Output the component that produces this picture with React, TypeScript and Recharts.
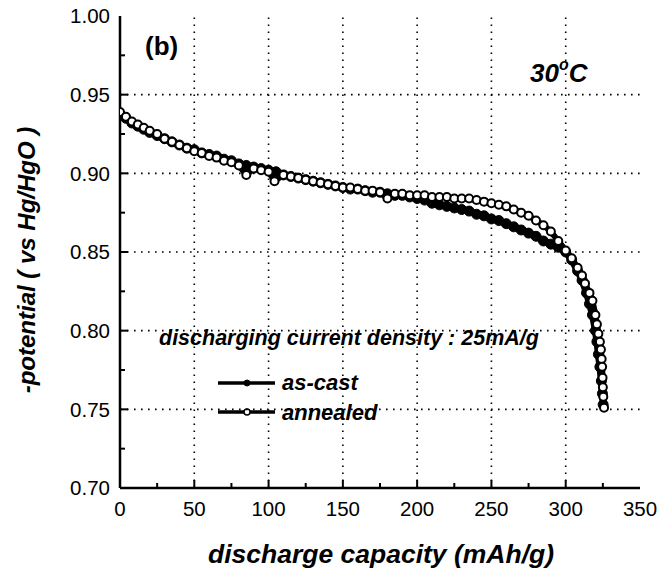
import React from 'react';
import { LineChart, Line, XAxis, YAxis, ReferenceLine } from 'recharts';

// discharge capacity (mAh/g) and potential (V)
const asCastCapacity = [
  0, 4, 8, 12, 16, 20, 25, 30, 35, 40, 45, 50, 55, 60, 65, 70, 75, 80, 85, 90, 95, 100, 105, 110, 115,
  120, 125, 130, 135, 140, 145, 150, 155, 160, 165, 170, 175, 180, 185, 190, 195, 200, 205, 210, 215,
  220, 225, 230, 235, 240, 245, 250, 255, 260, 265, 270, 275, 280, 285, 290, 295, 300, 304, 308, 311,
  314, 316, 318, 320, 321, 322, 323, 324, 324.7, 325.2,
];
const asCastPotential = [
  0.937, 0.935, 0.932, 0.93, 0.928, 0.926, 0.924, 0.922, 0.92, 0.918, 0.916, 0.915, 0.913, 0.912, 0.911,
  0.909, 0.908, 0.906, 0.905, 0.904, 0.903, 0.902, 0.901, 0.899, 0.898, 0.897, 0.896, 0.895, 0.894,
  0.893, 0.892, 0.891, 0.89, 0.89, 0.889, 0.888, 0.888, 0.887, 0.886, 0.886, 0.885, 0.884, 0.883, 0.881,
  0.88, 0.879, 0.878, 0.877, 0.876, 0.874, 0.873, 0.871, 0.87, 0.868, 0.866, 0.864, 0.862, 0.86, 0.857,
  0.855, 0.853, 0.85, 0.845, 0.838, 0.832, 0.824, 0.817, 0.81, 0.8, 0.793, 0.785, 0.777, 0.768, 0.76,
  0.753,
];

const annealedCapacity = [
  0, 4, 8, 12, 16, 20, 25, 30, 35, 40, 45, 50, 55, 60, 65, 70, 75, 80, 85, 90, 95, 100, 104, 110, 115,
  120, 125, 130, 135, 140, 145, 150, 155, 160, 165, 170, 175, 180, 185, 190, 195, 200, 205, 210, 215,
  220, 225, 230, 235, 240, 245, 250, 255, 260, 265, 270, 275, 280, 285, 290, 295, 300, 304, 308, 311,
  313, 316, 318, 320, 321, 322, 323, 323.7, 324.2, 324.5, 324.8, 325, 325.3, 325.8,
];
const annealedPotential = [
  0.939, 0.936, 0.933, 0.931, 0.929, 0.927, 0.925, 0.922, 0.92, 0.918, 0.916, 0.914, 0.913, 0.911, 0.91,
  0.908, 0.907, 0.905, 0.899, 0.903, 0.902, 0.901, 0.895, 0.899, 0.898, 0.897, 0.896, 0.895, 0.894,
  0.893, 0.892, 0.891, 0.891, 0.89, 0.889, 0.889, 0.888, 0.884, 0.887, 0.887, 0.886, 0.886, 0.886, 0.885,
  0.885, 0.885, 0.884, 0.884, 0.884, 0.883, 0.882, 0.881, 0.88, 0.879, 0.877, 0.875, 0.873, 0.87, 0.867,
  0.863, 0.857, 0.851, 0.846, 0.84, 0.835, 0.83, 0.824, 0.819, 0.81, 0.804, 0.798, 0.793, 0.788, 0.782,
  0.777, 0.77, 0.764, 0.758, 0.751,
];

const xTicks = [0, 25, 50, 75, 100, 125, 150, 175, 200, 225, 250, 275, 300, 325, 350];
const yTicks = [0.7, 0.725, 0.75, 0.775, 0.8, 0.825, 0.85, 0.875, 0.9, 0.925, 0.95, 0.975, 1.0];
const xGrid = [50, 100, 150, 200, 250, 300];
const yGrid = [0.75, 0.8, 0.85, 0.9, 0.95];

const asCastData = asCastCapacity.map((x, i) => ({ x, y: asCastPotential[i] }));
const annealedData = annealedCapacity.map((x, i) => ({ x, y: annealedPotential[i] }));

const FONT = '"Liberation Sans", Arial, Helvetica, sans-serif';
const X_MARGIN = 13;
const Y_MARGIN = 10;

const isMajorX = (v: number) => v % 50 === 0;
const isMajorY = (v: number) => Math.round(v * 1000) % 50 === 0;

const BottomTick = (props: any) => {
  const { x, y, payload } = props;
  const v = payload.value;
  const axisY = y - X_MARGIN;
  return (
    <g>
      {v > 0 && v < 350 && (
        <line x1={x} x2={x} y1={axisY} y2={axisY - (isMajorX(v) ? 8 : 5)} stroke="#000" strokeWidth={2} />
      )}
      {isMajorX(v) && (
        <text x={x} y={y} dy="0.71em" textAnchor="middle" fontSize={20.5} fontFamily={FONT} fill="#000">
          {v}
        </text>
      )}
    </g>
  );
};

const TopTick = (props: any) => {
  const { x, y, payload } = props;
  const v = payload.value;
  if (v <= 0 || v >= 350) return <g />;
  return <line x1={x} x2={x} y1={y} y2={y + (isMajorX(v) ? 8 : 5)} stroke="#000" strokeWidth={2} />;
};

const LeftTick = (props: any) => {
  const { x, y, payload } = props;
  const v = payload.value;
  const axisX = x + Y_MARGIN;
  return (
    <g>
      {v > 0.7 && v < 1.0 && (
        <line x1={axisX} x2={axisX + (isMajorY(v) ? 8 : 5)} y1={y} y2={y} stroke="#000" strokeWidth={2} />
      )}
      {isMajorY(v) && (
        <text x={x} y={y} dy="0.355em" textAnchor="end" fontSize={20.5} fontFamily={FONT} fill="#000">
          {v.toFixed(2)}
        </text>
      )}
    </g>
  );
};

const bold = { fontFamily: FONT, fontWeight: 700, fill: '#000' } as const;

export default function App() {
  return (
    <div style={{ position: 'absolute', left: 0, top: 0, width: 671, height: 568, background: '#fff' }}>
      <LineChart width={671} height={568} margin={{ top: 16, right: 31, bottom: 0, left: 0 }}>
        <XAxis
          type="number"
          dataKey="x"
          domain={[0, 350]}
          allowDataOverflow
          ticks={xTicks}
          interval={0}
          height={80}
          tickSize={0}
          tickMargin={X_MARGIN}
          tick={<BottomTick />}
          axisLine={{ stroke: '#000', strokeWidth: 2.5 }}
        />
        <XAxis
          xAxisId="top"
          orientation="top"
          type="number"
          domain={[0, 350]}
          allowDataOverflow
          ticks={xTicks}
          interval={0}
          height={0}
          tickSize={0}
          tickMargin={0}
          tick={<TopTick />}
          axisLine={{ stroke: '#000', strokeWidth: 2.5 }}
        />
        <YAxis
          type="number"
          dataKey="y"
          domain={[0.7, 1.0]}
          allowDataOverflow
          ticks={yTicks}
          interval={0}
          width={120}
          tickSize={0}
          tickMargin={Y_MARGIN}
          tick={<LeftTick />}
          axisLine={{ stroke: '#000', strokeWidth: 2.5 }}
        />
        <YAxis
          yAxisId="right"
          orientation="right"
          type="number"
          domain={[0.7, 1.0]}
          allowDataOverflow
          width={0}
          tick={false}
          tickLine={false}
          axisLine={{ stroke: '#000', strokeWidth: 2.5 }}
        />
        {xGrid.map((v) => (
          <ReferenceLine key={`gx${v}`} x={v} stroke="#000" strokeWidth={1.6} strokeDasharray="1.6 5.4" />
        ))}
        {yGrid.map((v) => (
          <ReferenceLine key={`gy${v}`} y={v} stroke="#000" strokeWidth={1.6} strokeDasharray="1.6 5.4" />
        ))}
        <Line
          data={asCastData}
          dataKey="y"
          name="as-cast"
          type="linear"
          stroke="#000"
          strokeWidth={7}
          dot={{ r: 5, fill: '#000', stroke: '#000', strokeWidth: 1 }}
          isAnimationActive={false}
        />
        <Line
          data={annealedData}
          dataKey="y"
          name="annealed"
          type="linear"
          stroke="#000"
          strokeWidth={6}
          dot={{ r: 4, fill: '#fff', stroke: '#000', strokeWidth: 2 }}
          isAnimationActive={false}
        />

        <text x={145} y={55} fontSize={26} {...bold}>(b)</text>
        <text x={530} y={82} fontSize={26} fontStyle="italic" {...bold}>
          30<tspan fontSize={16} dy={-12}>o</tspan>
          <tspan dy={12}>C</tspan>
        </text>
        <text x={159} y={345} fontSize={21.5} fontStyle="italic" {...bold}>
          discharging current density : 25mA/g
        </text>

        <line x1={218} x2={275} y1={383} y2={383} stroke="#000" strokeWidth={3.5} />
        <circle cx={247} cy={383} r={3} fill="#000" stroke="#000" />
        <text x={282} y={390} fontSize={22} fontStyle="italic" {...bold}>as-cast</text>
        <line x1={218} x2={275} y1={412} y2={412} stroke="#000" strokeWidth={3.5} />
        <circle cx={247} cy={412} r={3} fill="#fff" stroke="#000" strokeWidth={1.5} />
        <text x={282} y={420} fontSize={22} fontStyle="italic" {...bold}>annealed</text>

        <text x={381} y={563} fontSize={26.5} fontStyle="italic" textAnchor="middle" {...bold}>
          discharge capacity (mAh/g)
        </text>
        <text
          transform="rotate(-90)"
          x={-260}
          y={35}
          fontSize={24}
          fontStyle="italic"
          textAnchor="middle"
          {...bold}
        >
          -potential ( vs Hg/HgO )
        </text>
      </LineChart>
    </div>
  );
}
